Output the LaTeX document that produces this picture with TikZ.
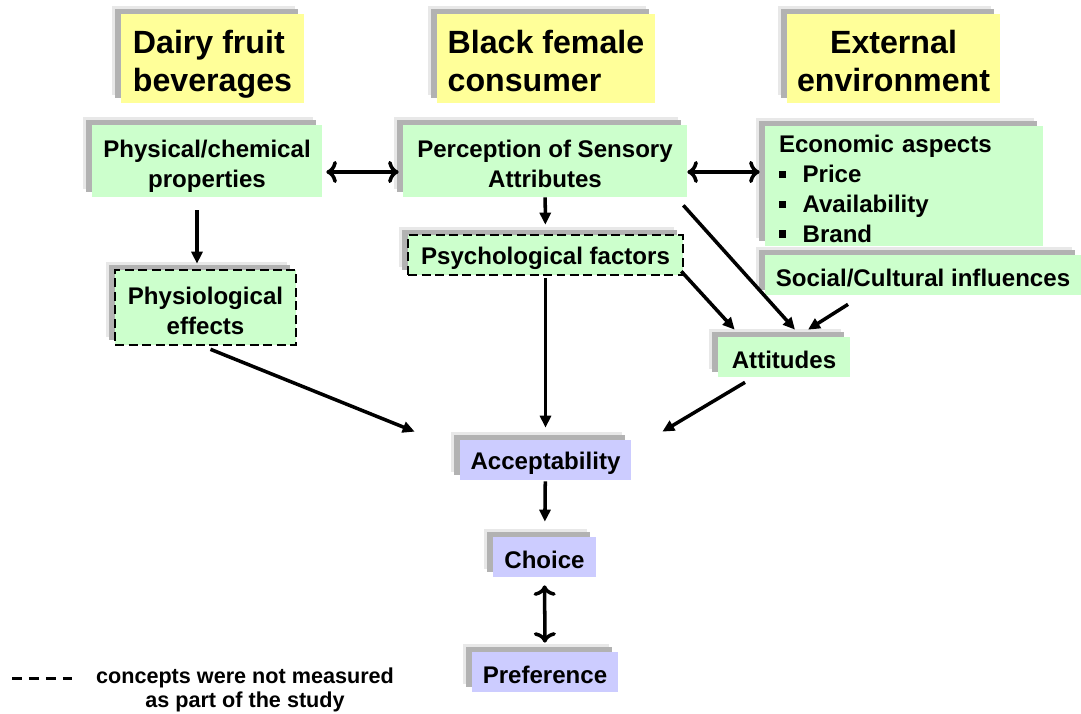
\documentclass[tikz,border=0pt]{standalone}
\usepackage{fontspec}
\setmainfont{Liberation Sans}
\usepackage{xcolor}
\usetikzlibrary{
    arrows.meta,
    positioning,
    shadows
}
\definecolor{yellowbox}{HTML}{FFFF99}
\definecolor{greenbox}{HTML}{CCFFCC}
\definecolor{lilacbox}{HTML}{CCCCFF}
\newcommand{\sqbullet}{\rule[0.2em]{0.3em}{0.3em}\hspace{0.68em}}

\begin{document}
\begin{tikzpicture}[
        x=0.02cm, y=-0.02cm,
        boxshadow/.style={general shadow={shadow xshift=-0.18cm, shadow yshift=0.16cm, fill=gray!18},
                          general shadow={shadow xshift=-0.12cm, shadow yshift=0.1cm, fill=gray!60}},
        title/.style={boxshadow, fill=yellowbox, inner sep=0pt, align=center, text height=37.5pt, text depth=0pt,
                      font=\fontsize{18.3}{21.5}\selectfont\bfseries},
        block/.style={boxshadow, fill=#1, inner sep=0pt, align=center,
                      execute at begin node={\rule{0pt}{13.4pt}}, font=\fontsize{13.7}{17}\selectfont\bfseries},
        twolines/.style={text height=30.5pt, text depth=0pt},
        notmeasured/.style={draw, line width=1.5pt, dash pattern=on 0.18cm off 0.09cm},
        arrow/.style={-{Triangle[length=2.4mm,width=2.2mm]}, line width=2pt}
    ]
        \useasboundingbox (0,0) rectangle (1081,713);

        % Column titles
        \node[title, align=left, minimum width=3.66cm, minimum height=1.78cm] (dairy) at (212.5,58.5) {Dairy fruit\\beverages};
        \node[title, align=left, minimum width=4.36cm, minimum height=1.78cm] (consumer) at (546,58.5) {Black female\\consumer};
        \node[title, minimum width=4.26cm, minimum height=1.78cm] (environ) at (893.5,58.5) {External\\environment};

        % Top row
        \node[block=greenbox, twolines, minimum width=4.6cm, minimum height=1.44cm] (physchem) at (207,161) {Physical/chemical\\properties};
        \node[block=greenbox, twolines, minimum width=5.68cm, minimum height=1.44cm] (sensory) at (545,161) {Perception of Sensory\\Attributes};
        \node[block=greenbox, minimum width=5.56cm, minimum height=2.4cm, text width=5cm, inner xsep=0.28cm, align=left] (economic) at (904,186)
            {Economic aspects\\\sqbullet Price\\\sqbullet Availability\\\sqbullet Brand};
        \node[block=greenbox, minimum width=6.32cm, minimum height=0.8cm] (social) at (923,275) {Social/Cultural influences};

        % Middle row
        \node[block=greenbox, notmeasured, minimum width=5.5cm, minimum height=0.8cm] (psych) at (545.5,255) {Psychological factors};
        \node[block=greenbox, notmeasured, twolines, minimum width=3.62cm, minimum height=1.5cm] (physio) at (205.5,307.5) {Physiological\\effects};
        \node[block=greenbox, minimum width=2.64cm, minimum height=0.8cm] (attitudes) at (784,357) {Attitudes};

        % Outcome column
        \node[block=lilacbox, minimum width=3.42cm, minimum height=0.8cm] (accept) at (545.5,460) {Acceptability};
        \node[block=lilacbox, minimum width=2.06cm, minimum height=0.8cm] (choice) at (544.5,557) {Choice};
        \node[block=lilacbox, minimum width=2.92cm, minimum height=0.8cm] (pref) at (545,672) {Preference};

        % Arrows
        \draw[arrow, <->, shorten <=0.08cm, shorten >=0.08cm] ([yshift=-0.22cm]physchem.east) -- ([yshift=-0.22cm]sensory.west);
        \draw[arrow, <->, shorten >=0.1cm] ([yshift=-0.22cm]sensory.east) -- ([yshift=-0.22cm]sensory.east -| economic.west);
        \draw[arrow, shorten >=0.18cm] (sensory) -- (psych);
        \draw[arrow, shorten <=0.26cm, shorten >=0.1cm] ([xshift=-0.2cm]physchem.south) -- ([xshift=-0.2cm]physchem.south |- physio.north);
        \draw[arrow, shorten <=0.04cm, shorten >=0.24cm] (psych) -- (accept);
        \draw[arrow] ([xshift=0.1cm,yshift=-0.06cm]physio.south) -- ([xshift=-0.9cm,yshift=0.16cm]accept.north west);
        \draw[arrow] ([xshift=-0.06cm,yshift=0.1cm]psych.south east) -- ([xshift=0.34cm,yshift=0.14cm]attitudes.north west);
        \draw[arrow] ([xshift=-0.08cm,yshift=-0.16cm]sensory.south east) -- ([xshift=0.22cm,yshift=0.14cm]attitudes.north);
        \draw[arrow] ([xshift=-1.5cm,yshift=-0.18cm]social.south) -- ([xshift=0.48cm,yshift=0.14cm]attitudes.north);
        \draw[arrow] ([xshift=-0.78cm,yshift=-0.1cm]attitudes.south) -- ([xshift=0.62cm,yshift=0.16cm]accept.north east);
        \draw[arrow, shorten <=0.02cm, shorten >=0.3cm] (accept) -- (choice);
        \draw[arrow, <->, shorten <=0.16cm, shorten >=0.18cm] (choice) -- (pref);

        % Legend
        \coordinate (dashstart) at (12,678);
        \coordinate (dashend) at (72,678);
        \draw[line width=1.7pt, dash pattern=on 0.2cm off 0.14cm] (dashstart) -- (dashend);
        \node[align=center, inner sep=0pt, font=\fontsize{12.3}{13.8}\selectfont\bfseries] (legend) at (245,690)
            {concepts were not measured\\as part of the study};

    \end{tikzpicture}
\end{document}
